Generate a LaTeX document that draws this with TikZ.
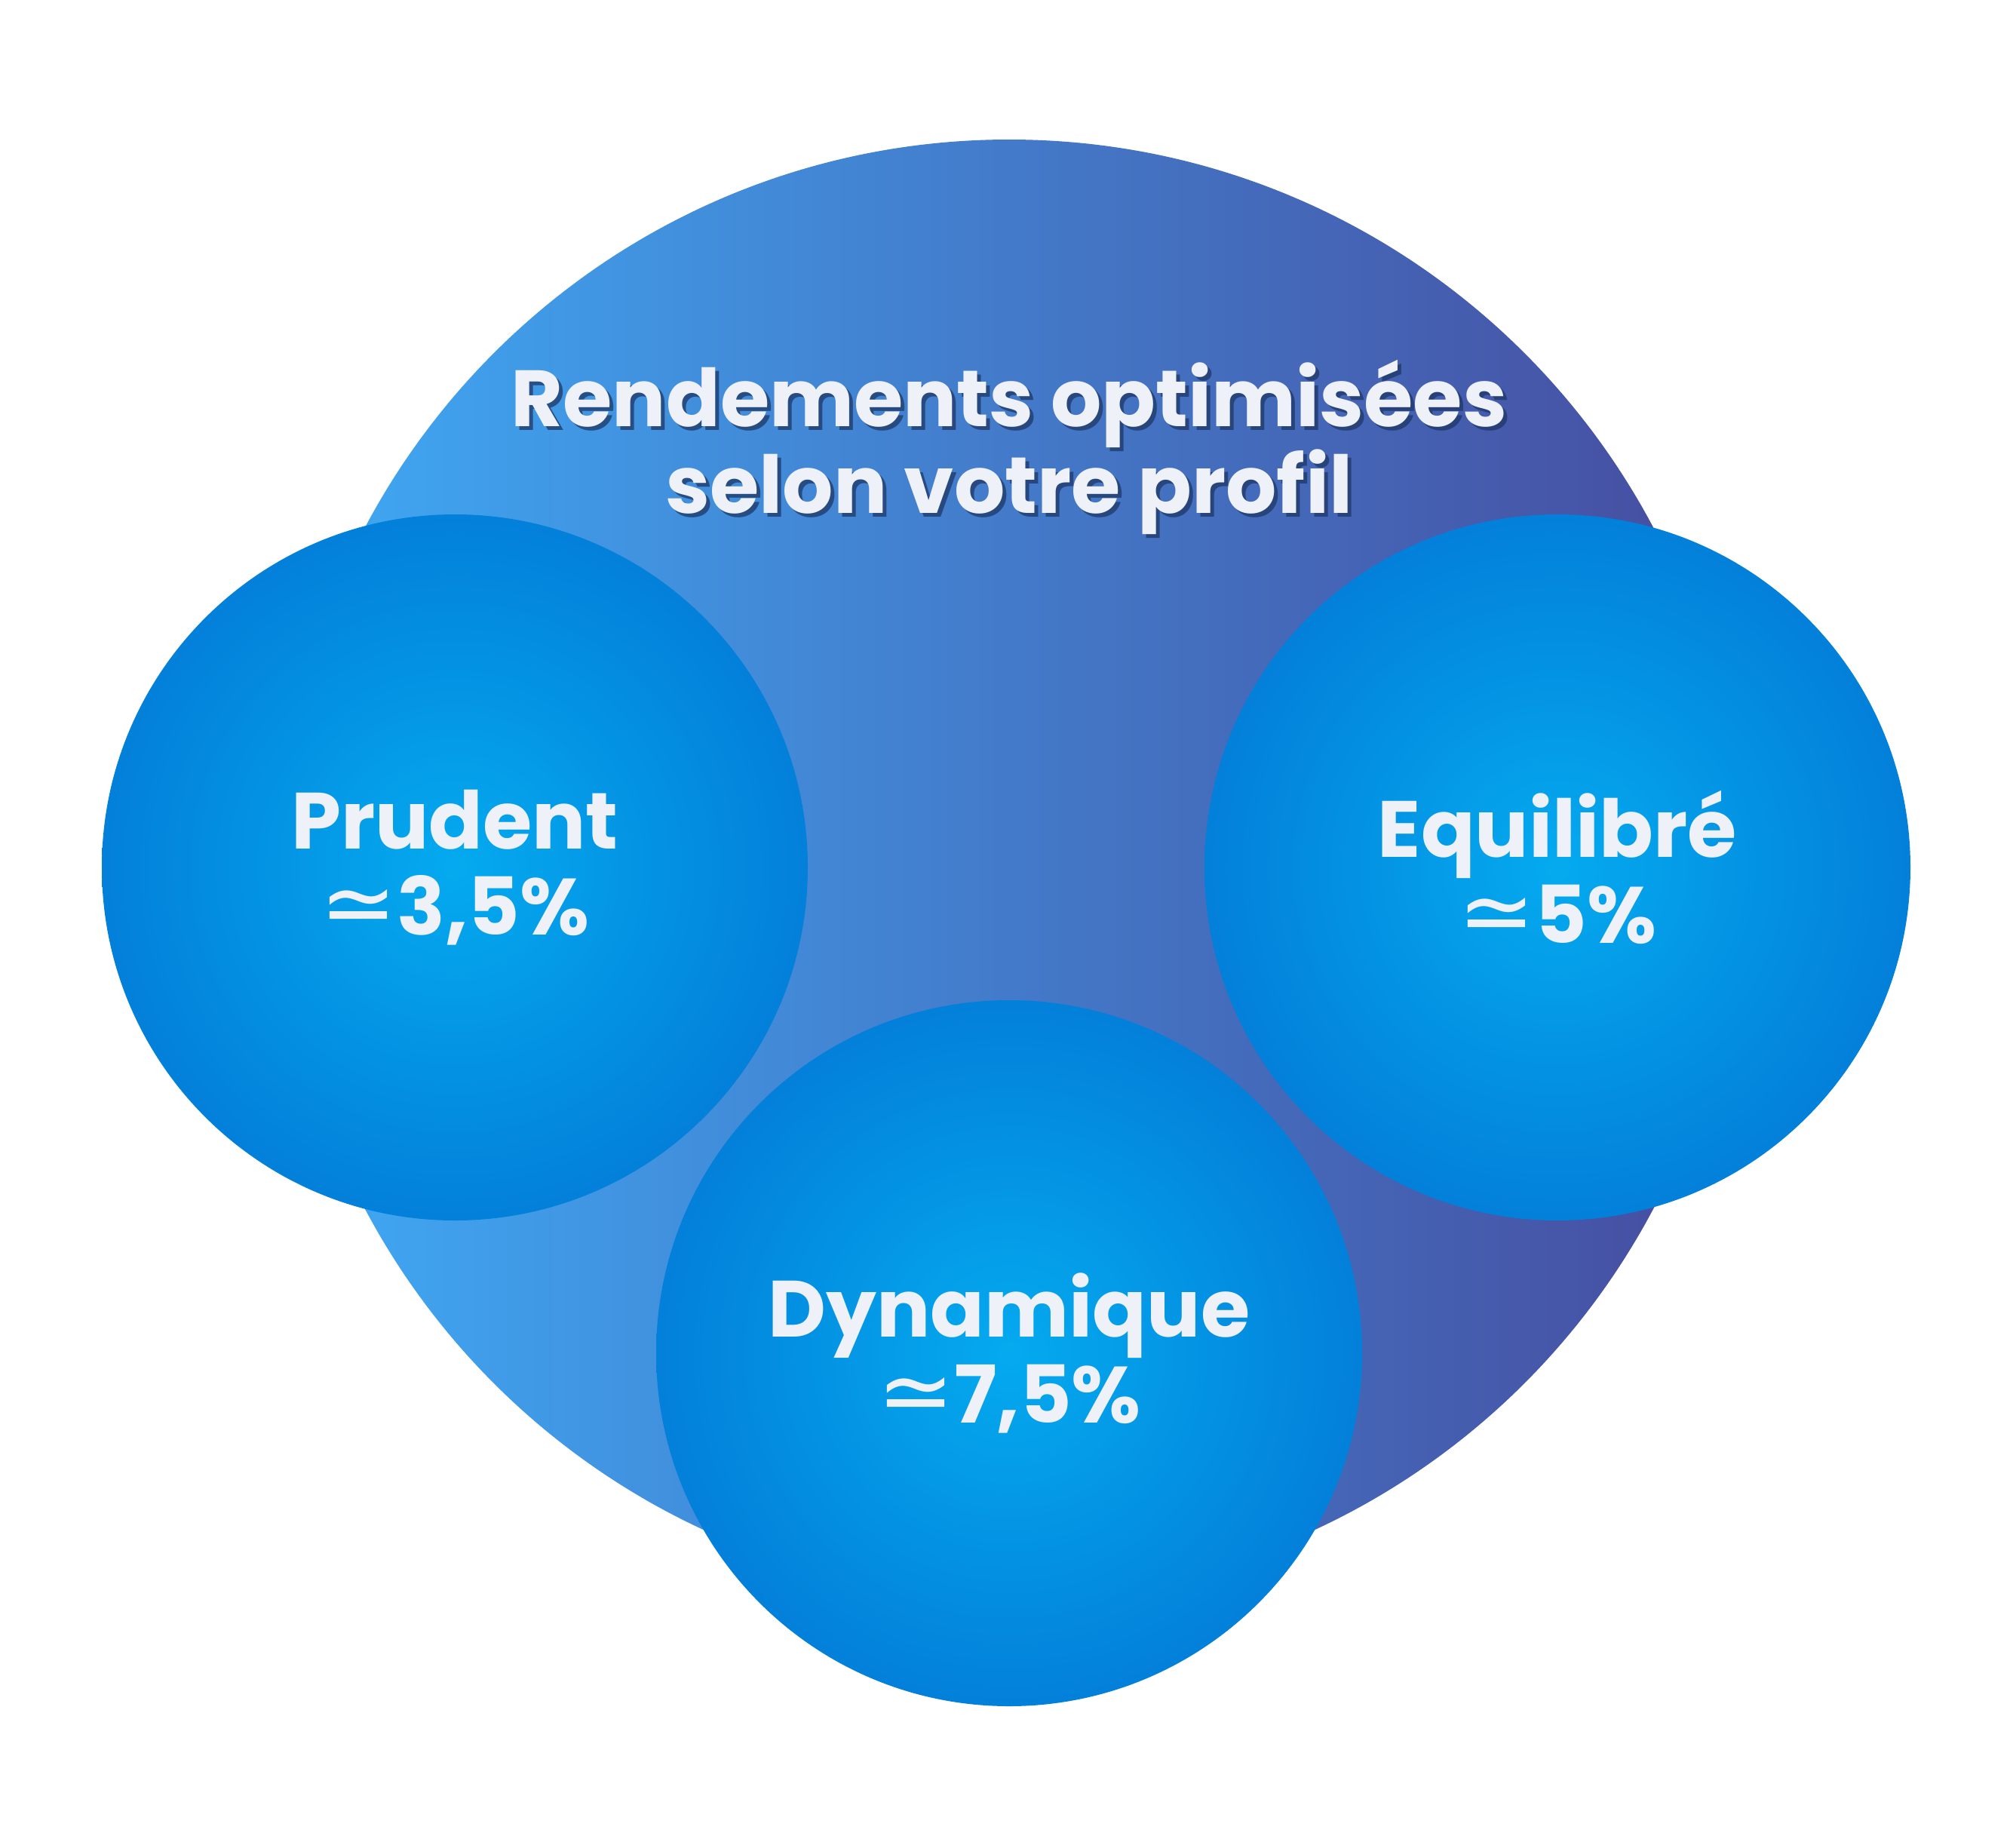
\documentclass[tikz,border=0pt]{standalone}
\usepackage{fontspec}
\setmainfont{Poppins}
\newfontfamily\symfont{DejaVu Sans}
\usetikzlibrary{positioning}
\definecolor{PoolLeft}{HTML}{3FAAF5}
\definecolor{PoolRight}{HTML}{474B9E}
\definecolor{ProfilInner}{HTML}{04AAEF}
\definecolor{ProfilOuter}{HTML}{0380DA}
\definecolor{LabelText}{HTML}{EEF1F8}
\definecolor{TitleShadow}{HTML}{1E3866}
\newcommand{\approxsign}{\scalebox{1.15}{\symfont\mdseries ≃}}

\begin{document}
\begin{tikzpicture}[
pool/.style={
circle,
minimum size=19.32cm,
inner sep=0pt,
left color=PoolLeft,
right color=PoolRight
},
profil/.style={
circle,
minimum size=9.36cm,
inner sep=0pt,
inner color=ProfilInner,
outer color=ProfilOuter,
text=LabelText,
align=center,
font=\fontsize{30.1}{32.4}\selectfont\bfseries
},
headline/.style={
align=center,
inner sep=0pt,
font=\fontsize{30.1}{32.7}\selectfont\bfseries
}
]
\useasboundingbox (0,0) rectangle (26.69,-24.5);

% big background disc
\node[pool] (pool) at (13.38,-11.51) {};

% title with its shadow
\node[headline, text=TitleShadow, text opacity=0.75] (titleshadow) at (13.43,-5.98) {Rendements optimisées\\selon votre profil};
\node[headline, text=LabelText] (title) at (13.38,-5.93) {Rendements optimisées\\selon votre profil};

% the three profiles
\node[profil] (prudent) at (6.03,-11.50) {Prudent\\\approxsign3,5\%};
\node[profil] (equilibre) at (20.65,-11.50) {Equilibré\\\approxsign5\%};
\node[profil] (dynamique) at (13.38,-17.94) {Dynamique\\\approxsign7,5\%};

\end{tikzpicture}
\end{document}
